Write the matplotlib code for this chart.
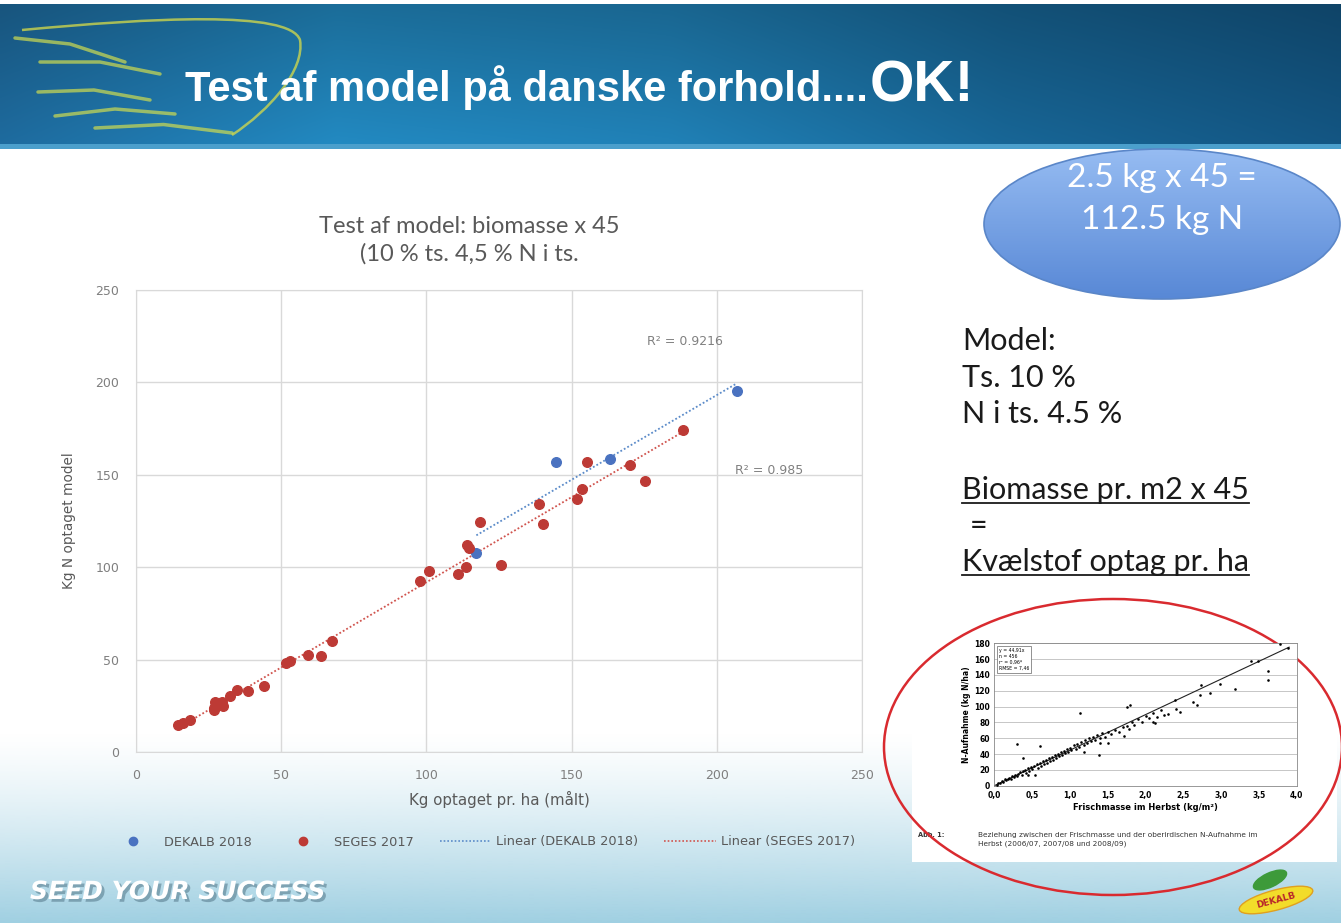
import numpy as np
import matplotlib
matplotlib.use("Agg")
import matplotlib.pyplot as plt
import matplotlib.patheffects as pe
from matplotlib.patches import Ellipse, Rectangle, PathPatch
from matplotlib.path import Path
from matplotlib.lines import Line2D

# --- data ---
dekalb_x = [117.2, 144.5, 163.2, 206.9]
dekalb_y = [107.6, 156.7, 158.6, 195.5]

seges_x = [14.6, 16.3, 18.6, 26.7, 26.9, 27.2, 29.5, 30.1, 32.4, 34.9, 38.4, 44.2,
           51.7, 53.1, 59.2, 63.8, 67.5, 97.9, 100.8, 110.8, 113.8, 114.0, 114.6,
           118.4, 125.8, 138.7, 140.2, 152.0, 153.7, 155.4, 170.1, 175.3, 188.2]
seges_y = [14.6, 15.9, 17.3, 23.7, 22.8, 27.2, 27.2, 24.9, 30.3, 33.6, 33.0, 35.8,
           48.0, 49.5, 52.5, 52.0, 60.3, 92.8, 98.2, 96.3, 100.0, 112.1, 110.3,
           124.2, 101.1, 134.3, 123.5, 136.9, 142.3, 157.1, 155.5, 146.8, 174.1]

r2_labels = ["R² = 0.9216", "R² = 0.985"]
axis_ticks = [0, 50, 100, 150, 200, 250]
legend_labels = ["DEKALB 2018", "SEGES 2017", "Linear (DEKALB 2018)", "Linear (SEGES 2017)"]

# small German reference chart
inset_x = [0.03, 0.05, 0.08, 0.10, 0.12, 0.14, 0.16, 0.18, 0.20, 0.22, 0.24, 0.26, 0.28, 0.30,
           0.32, 0.34, 0.36, 0.38, 0.40, 0.42, 0.44, 0.46, 0.48, 0.50, 0.52, 0.54, 0.56, 0.58,
           0.60, 0.62, 0.64, 0.66, 0.68, 0.70, 0.72, 0.74, 0.76, 0.78, 0.80, 0.82, 0.84, 0.86,
           0.88, 0.90, 0.92, 0.94, 0.96, 0.98, 1.00, 1.02, 1.05, 1.08, 1.10, 1.12, 1.15, 1.18,
           1.20, 1.22, 1.25, 1.28, 1.30, 1.33, 1.36, 1.40, 1.43, 1.46, 1.50, 1.55, 1.60, 1.65,
           1.70, 1.72, 1.75, 1.78, 1.82, 1.85, 1.90, 1.95, 2.00, 2.05, 2.10, 2.15, 2.20, 2.30,
           2.40, 2.45,
           0.30, 0.38, 0.60, 0.45, 1.13, 1.18, 1.38, 1.40, 1.51, 1.75, 1.79, 2.10, 2.24, 2.13,
           2.39, 2.63, 2.68, 2.72, 2.74, 2.85, 2.99, 3.18, 3.39, 3.49, 3.62, 3.62, 3.78, 3.88]
inset_y = [1, 3, 4, 6, 5, 8, 7, 9, 10, 8, 12, 11, 14, 12,
           15, 17, 14, 18, 20, 16, 22, 19, 24, 21, 25, 13, 27, 23,
           29, 25, 31, 27, 32, 29, 35, 31, 36, 33, 39, 35, 40, 37,
           43, 39, 44, 41, 47, 43, 48, 45, 51, 47, 53, 49, 55, 51,
           58, 54, 60, 56, 62, 58, 64, 60, 66, 62, 68, 65, 70, 68,
           74, 63, 76, 72, 80, 77, 84, 80, 88, 85, 92, 87, 96, 91,
           97, 93,
           53, 35, 50, 14, 92, 43, 39, 54, 54, 99, 102, 81, 89, 79,
           108, 106, 102, 115, 127, 117, 129, 122, 158, 158, 145, 133, 179, 174]
inset_slope = 44.91
inset_xticks = [0.0, 0.5, 1.0, 1.5, 2.0, 2.5, 3.0, 3.5, 4.0]
inset_yticks = [0, 20, 40, 60, 80, 100, 120, 140, 160, 180]

W, H = 1341, 923
fig = plt.figure(figsize=(W / 100, H / 100), dpi=100)

# background layer in pixel coordinates
bg = fig.add_axes([0, 0, 1, 1], zorder=0)
bg.set_xlim(0, W)
bg.set_ylim(H, 0)
bg.axis("off")

# header band
stops = np.array([[28, 100, 148], [32, 128, 180], [30, 120, 170], [22, 95, 140], [18, 80, 122]]) / 255
sx = np.linspace(0, 1, len(stops))
gx = np.linspace(0, 1, 300)
row = np.stack([np.interp(gx, sx, stops[:, i]) for i in range(3)], axis=1)
shade = np.linspace(0.85, 1.08, 60)[:, None, None]
header = np.clip(row[None, :, :] * shade, 0, 1)
bg.imshow(header, extent=[0, W, 148, 4], aspect="auto", interpolation="bilinear")
bg.add_patch(Rectangle((0, 144), W, 5, color="#4b9fcc", lw=0))

# wing swoosh
wing = Path([(22, 30), (150, 18), (290, 10), (300, 40), (305, 70), (270, 110), (232, 135)],
            [Path.MOVETO, Path.CURVE4, Path.CURVE4, Path.CURVE4, Path.CURVE4, Path.CURVE4, Path.CURVE4])
bg.add_patch(PathPatch(wing, fc="none", ec="#d8dc48", lw=1.8, alpha=0.75))
for (x0, y0), (x1, y1) in [((15, 38), (125, 62)), ((40, 62), (160, 74)), ((38, 92), (150, 100)),
                           ((55, 116), (175, 114)), ((95, 128), (232, 133))]:
    bg.plot([x0, (x0 + x1) / 2, x1], [y0, (y0 + y1) / 2 - 6, y1], color="#cfdc50", lw=2.5, alpha=0.7,
            solid_capstyle="round")

# footer gradient
fh = np.linspace(0, 1, 100) ** 1.3
foot = np.zeros((100, 1, 4))
foot[..., 0] = 160 / 255
foot[..., 1] = 208 / 255
foot[..., 2] = 226 / 255
foot[..., 3] = fh[:, None]
bg.imshow(foot, extent=[0, W, H, 730], aspect="auto", interpolation="bilinear")

# title (the "OK!" part is placed after a first draw)
t1 = bg.text(185, 101, "Test af model på danske forhold....", color="white", fontsize=30,
             fontweight="bold", family="Liberation Sans", va="baseline")

# blue ellipse
ell = Ellipse((1162, 224), 356, 150, fc="none", ec="#5a86c8", lw=1.2, zorder=3)
grad = np.linspace(0, 1, 100)[:, None, None] * (np.array([88, 136, 214]) - np.array([150, 188, 242])) / 255 \
    + np.array([150, 188, 242]) / 255
im = bg.imshow(np.repeat(grad, 2, axis=1), extent=[984, 1340, 299, 149], aspect="auto", zorder=2)
bg.add_patch(ell)
im.set_clip_path(Ellipse((1162, 224), 356, 150, transform=bg.transData))
bg.text(1162, 178, "2.5 kg x 45 =", ha="center", va="center", color="white", fontsize=24,
        family="Lato", zorder=4)
bg.text(1162, 220, "112.5 kg N", ha="center", va="center", color="white", fontsize=24,
        family="Lato", zorder=4)

# right text block
txt_kw = dict(color="#1a1a1a", fontsize=22, family="Lato", va="center")
bg.text(962, 341, "Model:", **txt_kw)
bg.text(962, 378, "Ts. 10 %", **txt_kw)
bg.text(962, 414, "N i ts. 4.5 %", **txt_kw)
u1 = bg.text(962, 490, "Biomasse pr. m2 x 45", **txt_kw)
bg.text(970, 526, "=", **txt_kw)
u2 = bg.text(962, 562, "Kvælstof optag pr. ha", **txt_kw)

# main chart
ax = fig.add_axes([136 / W, (H - 752) / H, 726 / W, 462 / H], zorder=2)
ax.set_facecolor("none")
ax.scatter(dekalb_x, dekalb_y, s=48, color="#4a72c0", zorder=3)
ax.scatter(seges_x, seges_y, s=48, color="#bd3a35", zorder=3)
for xs, ys, col in [(dekalb_x, dekalb_y, "#5b8bc9"), (seges_x, seges_y, "#d0544e")]:
    k, b = np.polyfit(xs, ys, 1)
    xl = np.array([min(xs), max(xs)])
    ax.plot(xl, k * xl + b, ls=(0, (1, 1.2)), color=col, lw=1.3, zorder=2)
ax.text(189, 222, r2_labels[0], fontsize=9, color="#808080", ha="center", va="center")
ax.text(218, 152.5, r2_labels[1], fontsize=9, color="#808080", ha="center", va="center")
ax.set_xlim(0, 250)
ax.set_ylim(0, 250)
ax.set_xticks(axis_ticks)
ax.set_yticks(axis_ticks)
ax.grid(True, color="#d9d9d9", lw=1)
ax.set_axisbelow(True)
for s in ax.spines.values():
    s.set_color("#d9d9d9")
ax.tick_params(length=0, labelsize=9, labelcolor="#7f7f7f", pad=12)
ax.set_xlabel("Kg optaget pr. ha (målt)", fontsize=10.8, color="#595959")
ax.set_ylabel("Kg N optaget model", fontsize=9.8, color="#595959")
ax.xaxis.set_label_coords(0.5, -0.085)
ax.yaxis.set_label_coords(-0.083, 0.5)

bg.text(469, 240, "Test af model: biomasse x 45\n(10 % ts. 4,5 % N i ts.", ha="center", va="center",
        fontsize=17, color="#595959", family="Lato", linespacing=1.35)

handles = [Line2D([], [], ls="none", marker="o", ms=6, color="#4a72c0"),
           Line2D([], [], ls="none", marker="o", ms=6, color="#bd3a35"),
           Line2D([], [], ls=(0, (1, 1.2)), lw=1.2, color="#5b8bc9"),
           Line2D([], [], ls=(0, (1, 1.2)), lw=1.2, color="#d0544e")]
fig.legend(handles, legend_labels, loc="center", bbox_to_anchor=(481 / W, 1 - 842 / H), ncol=4,
           frameon=False, fontsize=9.3, labelcolor="#595959", columnspacing=2.0, handlelength=4.0,
           handletextpad=0.4)

# inset reference figure
bg.add_patch(Rectangle((912, 628), 425, 234, color="white", lw=0, zorder=1))
ia = fig.add_axes([994.3 / W, (H - 785.7) / H, 302.4 / W, 142.4 / H], zorder=2)
ia.scatter(inset_x, inset_y, s=3.5, color="black", lw=0, zorder=3)
xl = np.array([0, 3.9])
ia.plot(xl, inset_slope * xl, color="#222222", lw=0.8, zorder=2)
ia.set_xlim(0, 4)
ia.set_ylim(0, 180)
ia.set_xticks(inset_xticks)
ia.set_xticklabels([f"{v:.1f}".replace(".", ",") for v in inset_xticks])
ia.set_yticks(inset_yticks)
ia.yaxis.grid(True, color="#bdbdbd", lw=0.6)
ia.set_axisbelow(True)
ia.tick_params(axis="x", length=0, labelsize=5.5, pad=4)
ia.tick_params(axis="y", length=0, labelsize=5.5, pad=3)
for lab in ia.get_xticklabels() + ia.get_yticklabels():
    lab.set_fontweight("bold")
for s in ia.spines.values():
    s.set_color("#888888")
    s.set_linewidth(0.6)
ia.set_xlabel("Frischmasse im Herbst (kg/m²)", fontsize=6, fontweight="bold", labelpad=2)
ia.set_ylabel("N-Aufnahme (kg N/ha)", fontsize=5.5, fontweight="bold", labelpad=2)
ia.text(0.06, 174, "y = 44,91x\nn = 456\nr² = 0,96*\nRMSE = 7,46", fontsize=3.3, va="top",
        bbox=dict(fc="white", ec="#666666", lw=0.5, pad=1.5))
bg.text(918, 832, "Abb. 1:", fontsize=4.8, fontweight="bold", color="#333333", zorder=3, va="top")
bg.text(978, 832, "Beziehung zwischen der Frischmasse und der oberirdischen N-Aufnahme im\n"
        "Herbst (2006/07, 2007/08 und 2008/09)", fontsize=5.3, color="#333333", zorder=3,
        linespacing=1.5, va="top")

# red hand drawn loop
bg.add_patch(Ellipse((1113, 747), 458, 296, fc="none", ec="#d92a2f", lw=1.8, zorder=4))

# footer slogan and logo
bg.text(30, 892, "SEED YOUR SUCCESS", color="white", fontsize=18, fontweight="bold",
        fontstyle="italic", va="center", zorder=3,
        path_effects=[pe.withSimplePatchShadow(offset=(2, -2), shadow_rgbFace="#5a7f90", alpha=0.6)])
bg.add_patch(Ellipse((1270, 880), 36, 14, angle=-25, color="#3d9a3a", zorder=3))
bg.add_patch(Ellipse((1276, 900), 76, 20, angle=-15, fc="#f2dc2a", ec="#e0a020", lw=1, zorder=3))
bg.text(1276, 900, "DEKALB", rotation=15, color="#b8262a", fontsize=6.5, fontweight="bold",
        ha="center", va="center", zorder=4)

# second pass: "OK!" after the title, underlines
fig.canvas.draw()
inv = bg.transData.inverted()
tb = t1.get_window_extent()
x_end = inv.transform((tb.x1, tb.y0))[0]
bg.text(x_end + 2, 101, "OK!", color="white", fontsize=41, fontweight="bold",
        family="Liberation Sans", va="baseline")
for t in (u1, u2):
    bb = t.get_window_extent()
    (x0, y0), (x1, _) = inv.transform([(bb.x0, bb.y0), (bb.x1, bb.y1)])
    bg.plot([x0, x1], [y0 - 1, y0 - 1], color="#1a1a1a", lw=1.3)

fig.savefig("out.png", dpi=100)
